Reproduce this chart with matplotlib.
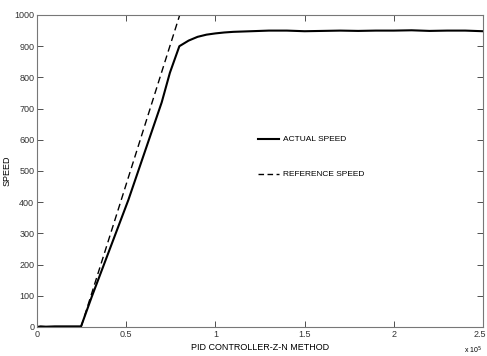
import numpy as np
import matplotlib
matplotlib.use('Agg')
import matplotlib.pyplot as plt
import matplotlib.transforms as mtransforms

# values (time in units of 1e5)
t_actual = [0.0, 0.02, 0.05, 0.10, 0.20, 0.247, 0.307, 0.512, 0.699, 0.745,
            0.798, 0.85, 0.90, 0.95, 1.00, 1.05, 1.10, 1.20, 1.30, 1.40, 1.50,
            1.60, 1.70, 1.80, 1.90, 2.00, 2.10, 2.20, 2.30, 2.40, 2.50]
speed_actual = [0, 2, 1, 2, 2, 2, 97, 407, 720, 815,
                900, 918, 930, 937, 941, 944, 946, 948, 950, 950, 948,
                949, 950, 949, 950, 950, 951, 949, 950, 950, 948]

t_ref = [0.247, 0.80, 0.83]
speed_ref = [0, 1000, 1055]

legend_labels = ['ACTUAL SPEED', 'REFERENCE SPEED']

plt.rcParams['font.family'] = ['Liberation Sans', 'DejaVu Sans']

fig = plt.figure(figsize=(4.87, 3.56), dpi=100)
ax = fig.add_axes([37 / 487, 29 / 356, 446 / 487, 312 / 356])

ax.plot(t_actual, speed_actual, color='black', lw=1.5)
ax.plot(t_ref, speed_ref, color='black', lw=1.0, ls=(0, (5, 3)))

ax.set_xlim(0, 2.5)
ax.set_ylim(0, 1000)
ax.set_xticks([0, 0.5, 1, 1.5, 2, 2.5])
ax.set_xticklabels(['0', '0.5', '1', '1.5', '2', '2.5'])
ax.set_yticks(range(0, 1001, 100))
ax.tick_params(direction='in', length=4, width=0.6, labelsize=6.5, colors='#333333',
               top=True, right=True, pad=2)
for s in ax.spines.values():
    s.set_color('#777777')
    s.set_linewidth(0.8)

# keep the last x label inside the figure
last = ax.get_xticklabels()[-1]
last.set_transform(last.get_transform() + mtransforms.ScaledTranslation(-3 / 100, 0, fig.dpi_scale_trans))

ax.set_xlabel('PID CONTROLLER-Z-N METHOD', fontsize=6.5, labelpad=3)
ax.set_ylabel('SPEED', fontsize=6.5)
ax.yaxis.set_label_coords(-25 / 446, 0.5)
fig.text(464 / 487, 1 - 350 / 356, r'x 10$^5$', fontsize=5, va='center')

# legend drawn as in the reference (no frame, entries on separate rows)
ax.plot([1.239, 1.357], [602, 602], color='black', lw=1.5)
ax.plot([1.239, 1.357], [490, 490], color='black', lw=1.0, ls=(0, (4, 2.5)))
ax.text(1.38, 602, legend_labels[0], fontsize=6, va='center')
ax.text(1.38, 490, legend_labels[1], fontsize=6, va='center')

fig.savefig('out.png', dpi=100)
